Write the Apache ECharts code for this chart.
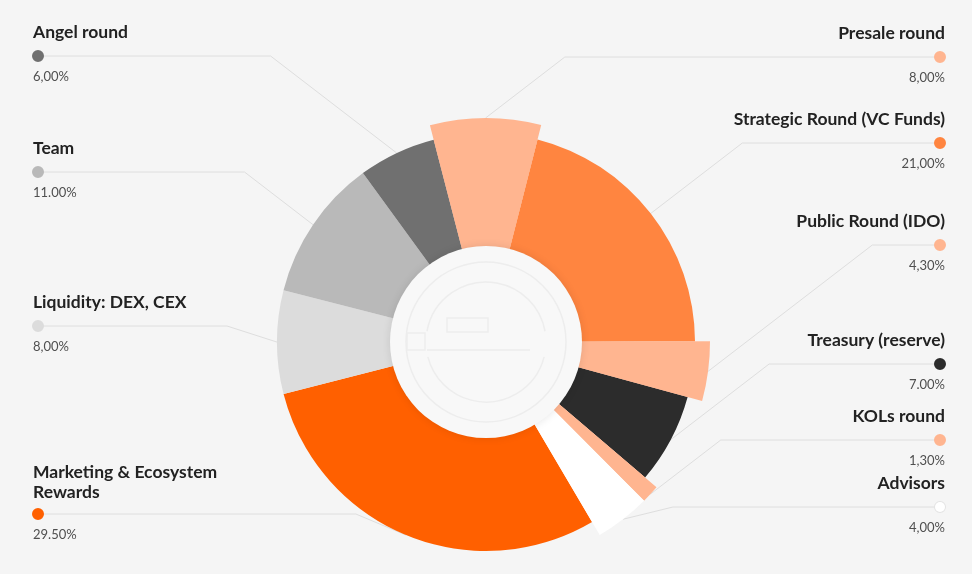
<!DOCTYPE html>
<html>
<head>
<meta charset="utf-8">
<script src="https://cdn.jsdelivr.net/npm/echarts@6/dist/echarts.min.js"></script>
<style>
html,body{margin:0;padding:0;background:#f5f5f5;}
#c{width:972px;height:574px;}
</style>
</head>
<body>
<div id="c"></div>
<script>
// ---- data ----
const categories = ['Presale round','Strategic Round (VC Funds)','Public Round (IDO)','Treasury (reserve)','KOLs round','Advisors','Marketing & Ecosystem Rewards','Liquidity: DEX, CEX','Team','Angel round'];
const values = [8, 21, 4.3, 7, 1.3, 4, 29.5, 8, 11, 6];
const valueLabels = ['8,00%','21,00%','4,30%','7.00%','1,30%','4,00%','29.50%','8,00%','11.00%','6,00%'];

// ---- styles / layout ----
const colors = ['#ffb590','#ff8540','#ffb590','#2c2c2c','#ffb590','#ffffff','#ff6000','#dcdcdc','#b9b9b9','#707070'];
const raised = [true,false,true,false,true,true,false,false,false,false];
const CX = 486, CY = 342, R0 = 90, R = 209, R_RAISED = 224;
const labelSide = ['right','right','right','right','right','right','left','left','left','left'];
const labelDotY = [57,143,245,364,440,507,514,326,172,56];
const LEFT_X = 33, RIGHT_X = 945, DOT = 10;
const nameLines = {'Marketing & Ecosystem Rewards': ['Marketing & Ecosystem','Rewards']};
const FONT = 'Lato, "Open Sans", sans-serif';

function linesOf(i){ return nameLines[categories[i]] || [categories[i]]; }

function makeLabel(i){
  const align = labelSide[i];
  const lines = linesOf(i);
  const rich = {
    n1: {fontFamily: FONT, fontWeight: 'bold', fontSize: 17.5, color: '#222222', lineHeight: lines.length > 1 ? 12 : 32, align},
    n2: {fontFamily: FONT, fontWeight: 'bold', fontSize: 17.5, color: '#222222', lineHeight: 28, align},
    dot: {width: DOT, height: DOT, lineHeight: 16, borderRadius: DOT/2, backgroundColor: colors[i],
          borderColor: colors[i] === '#ffffff' ? '#e4e4e4' : colors[i], borderWidth: 1, align},
    pct: {fontFamily: FONT, fontSize: 13, color: '#4f4f4f', lineHeight: 26, align}
  };
  let text = lines.length > 1 ? '{n1|' + lines[0] + '}\n{n2|' + lines[1] + '}' : '{n1|' + lines[0] + '}';
  text += '\n{dot|}\n{pct|' + valueLabels[i] + '}';
  return {show: true, formatter: text, rich};
}

const chart = echarts.init(document.getElementById('c'), null, {renderer: 'canvas'});

const mainData = categories.map((c, i) => ({
  name: c, value: values[i], itemStyle: {color: colors[i]}, label: makeLabel(i)
}));
const raisedData = categories.map((c, i) => ({
  name: c, value: values[i],
  itemStyle: {color: raised[i] ? colors[i] : 'rgba(0,0,0,0)'}
}));

function labelLayout(params){
  const i = params.dataIndex;
  const side = labelSide[i];
  const lines = linesOf(i);
  const topOffset = lines.length > 1 ? (12 + 28 + 8) : (32 + 8);
  const dotY = labelDotY[i];
  const dotX = side === 'left' ? LEFT_X + DOT/2 : RIGHT_X - DOT/2;
  const lay = chart.getModel().getSeriesByIndex(0).getData().getItemLayout(i);
  const mid = (lay.startAngle + lay.endAngle) / 2;
  const r = raised[i] ? R_RAISED : R;
  const sx = lay.cx + r * Math.cos(mid), sy = lay.cy + r * Math.sin(mid);
  const dir = side === 'left' ? -1 : 1;
  const bx = sx + dir * Math.max(50, Math.abs(dotY - sy) * 1.3);
  return {
    x: side === 'left' ? LEFT_X : RIGHT_X,
    y: dotY - topOffset,
    align: side,
    verticalAlign: 'top',
    labelLinePoints: [[sx, sy], [bx, dotY], [dotX, dotY]]
  };
}

const lineStroke = '#ededed';
chart.setOption({
  backgroundColor: '#f5f5f5',
  animation: false,
  series: [
    {
      type: 'pie',
      center: [CX, CY],
      radius: [R0, R],
      startAngle: 104.5,
      clockwise: true,
      avoidLabelOverlap: false,
      minShowLabelAngle: 0,
      emphasis: {disabled: true},
      label: {show: true, position: 'outside'},
      labelLine: {show: true, smooth: false, lineStyle: {color: '#dedede', width: 1}},
      labelLayout: labelLayout,
      data: mainData
    },
    {
      type: 'pie',
      center: [CX, CY],
      radius: [R0, R_RAISED],
      startAngle: 104.5,
      clockwise: true,
      silent: true,
      emphasis: {disabled: true},
      label: {show: false},
      labelLine: {show: false},
      data: raisedData
    }
  ],
  graphic: {
    elements: [
      {type: 'circle', z: 100, shape: {cx: CX, cy: CY, r: 96},
       style: {fill: '#f8f8f8', shadowBlur: 8, shadowColor: 'rgba(0,0,0,0.10)'}},
      {type: 'circle', z: 101, shape: {cx: CX, cy: CY, r: 80},
       style: {fill: 'none', stroke: lineStroke, lineWidth: 1.5}},
      {type: 'arc', z: 101, shape: {cx: CX, cy: CY, r: 60, startAngle: Math.PI + 0.18, endAngle: 2 * Math.PI - 0.18, clockwise: true},
       style: {fill: 'none', stroke: lineStroke, lineWidth: 1.5}},
      {type: 'arc', z: 101, shape: {cx: CX, cy: CY, r: 60, startAngle: 0.25, endAngle: Math.PI - 0.25, clockwise: true},
       style: {fill: 'none', stroke: lineStroke, lineWidth: 1.5}},
      {type: 'rect', z: 101, shape: {x: CX - 39, y: CY - 24, width: 41, height: 14},
       style: {fill: 'none', stroke: lineStroke, lineWidth: 1.5}},
      {type: 'rect', z: 101, shape: {x: CX - 79, y: CY - 9, width: 18, height: 17},
       style: {fill: 'none', stroke: lineStroke, lineWidth: 1.5}},
      {type: 'line', z: 101, shape: {x1: CX - 59, y1: CY + 8, x2: CX + 44, y2: CY + 8},
       style: {stroke: lineStroke, lineWidth: 1.5}}
    ]
  }
});
</script>
</body>
</html>
